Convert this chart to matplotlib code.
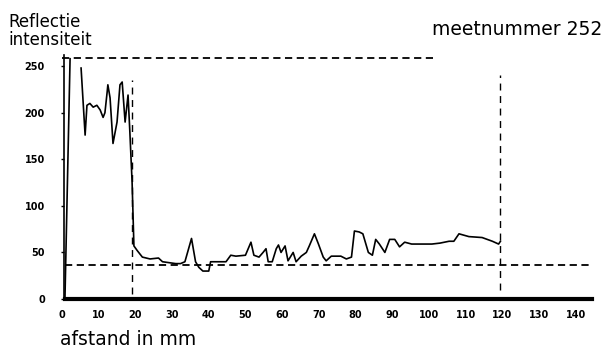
import numpy as np
import matplotlib
matplotlib.use("Agg")
import matplotlib.pyplot as plt

# meetnummer 252: reflectie intensiteit tegen afstand (mm)
afstand = [0.8, 2.2, np.nan, 5.2, 6.3, 6.8, 7.6, 8.5, 9.5, 10.4, 11.2, 11.7,
           12.3, 12.5, 13.1, 13.9, 15.0, 15.8, 16.4, 17.2, 18.0, 18.5, 19.1,
           19.6, 20.5, 21.9, 24.0, 26.3, 27.4, 31.0, 32.3, 33.5, 35.3, 36.4,
           37.3, 38.4, 40.0, 40.5, 44.7, 46.0, 47.4, 50.0, 51.5, 52.3, 53.7,
           54.8, 55.6, 56.2, 57.3, 58.4, 59.0, 59.7, 60.8, 61.6, 63.0, 63.8,
           65.2, 66.6, 67.4, 68.8, 69.9, 71.2, 72.0, 73.4, 76.0, 77.5, 78.9,
           79.7, 81.0, 82.0, 83.5, 84.6, 85.5, 86.5, 88.0, 89.3, 90.7, 92.0,
           93.4, 95.3, 98.0, 100.8, 103.0, 105.5, 106.8, 108.2, 110.9, 114.5,
           117.3, 119.0, 119.5]
intensiteit = [0, 258, np.nan, 248, 176, 208, 210, 206, 208, 203, 195, 200,
               222, 230, 216, 167, 190, 230, 233, 190, 219, 179, 126,
               57, 52, 45, 43, 44, 40, 38, 38, 40, 65, 40,
               34, 30, 30, 40, 40, 47, 46, 47, 61, 47, 45,
               50, 54, 40, 40, 54, 58, 50, 57, 41, 50, 40,
               46, 50, 57, 70, 59, 45, 41, 46, 46, 43, 45,
               73, 72, 70, 50, 47, 64, 59, 50, 64, 64, 56,
               61, 59, 59, 59, 60, 62, 62, 70, 67, 66,
               62, 59, 62]

yticks = [0, 50, 100, 150, 200, 250]
xticks = list(range(0, 150, 10))

# hulplijnen
top_niveau = 259
onder_niveau = 37
grens_links = 19.1
grens_rechts = 119.3

fig = plt.figure(figsize=(6.04, 3.49), dpi=100)
ax = fig.add_axes([62 / 604, 50 / 349, 532 / 604, 244 / 349])

ax.plot(afstand, intensiteit, color="black", lw=1.2)

dash = (0, (4, 2.5))
ax.plot([0, 101], [top_niveau, top_niveau], color="black", lw=1.3, ls=dash)
ax.plot([0.8, 143.7], [onder_niveau, onder_niveau], color="black", lw=1.3, ls=dash)
ax.plot([grens_links, grens_links], [5, 235], color="black", lw=1.0, ls=(0, (5, 4)))
ax.plot([grens_rechts, grens_rechts], [10, 240], color="black", lw=1.0, ls=(0, (5, 4)))

ax.set_xlim(0, 145)
ax.set_ylim(0, 262)
ax.spines["top"].set_visible(False)
ax.spines["right"].set_visible(False)
ax.spines["bottom"].set_linewidth(3)
ax.spines["bottom"].set_bounds(0.8, 144.5)
ax.spines["left"].set_linewidth(1.2)
ax.spines["left"].set_position(("data", 0.6))

ax.set_yticks(yticks)
ax.set_yticklabels([str(v) for v in yticks], fontsize=7, fontweight="bold")
ax.set_xticks(xticks)
ax.set_xticklabels([str(v) for v in xticks], fontsize=7, fontweight="bold")
ax.tick_params(axis="y", length=2, width=1, pad=12)
ax.tick_params(axis="x", length=0, pad=8)

fig.text(8 / 604, 1 - 27 / 349, "Reflectie", fontsize=12, ha="left", va="baseline")
fig.text(8 / 604, 1 - 45 / 349, "intensiteit", fontsize=12, ha="left", va="baseline")
fig.text(432 / 604, 1 - 35 / 349, "meetnummer 252", fontsize=13.5, ha="left", va="baseline")
fig.text(60 / 604, 1 - 345 / 349, "afstand in mm", fontsize=13.5, ha="left", va="baseline")

fig.savefig("out.png", dpi=100)
